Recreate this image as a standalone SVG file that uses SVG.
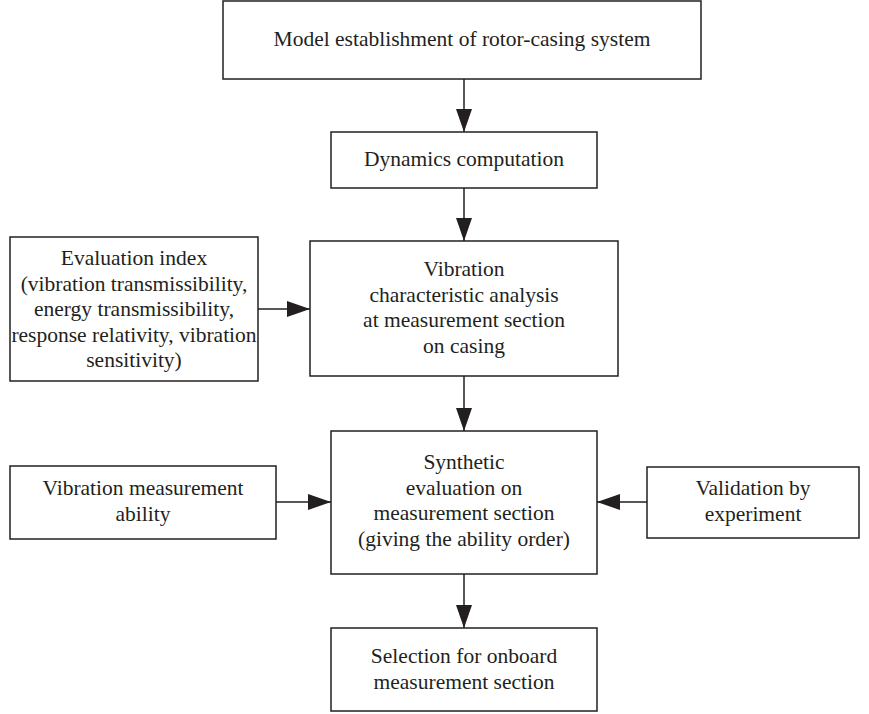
<svg xmlns="http://www.w3.org/2000/svg" width="869" height="714" viewBox="0 0 869 714">
<defs>
<style>
rect{fill:#fff;stroke:#231f20;stroke-width:1.5}
text{font-family:"Liberation Serif","Times New Roman",serif;font-size:21.5px;fill:#231f20;text-anchor:middle}
.c line{stroke:#231f20;stroke-width:1.5}
</style>
<marker id="ah" markerWidth="23" markerHeight="16" refX="23" refY="8" orient="auto" markerUnits="userSpaceOnUse">
<path d="M0,0 L23,8 L0,16 Z" fill="#231f20"/>
</marker>
</defs>
<rect width="869" height="714" style="stroke:none"/>
<g class="c" id="connectors">
<line x1="464" y1="79" x2="464" y2="132" marker-end="url(#ah)"/>
<line x1="464" y1="188" x2="464" y2="241" marker-end="url(#ah)"/>
<line x1="258" y1="309" x2="310" y2="309" marker-end="url(#ah)"/>
<line x1="464" y1="376" x2="464" y2="431" marker-end="url(#ah)"/>
<line x1="276" y1="502" x2="331" y2="502" marker-end="url(#ah)"/>
<line x1="647" y1="502" x2="597" y2="502" marker-end="url(#ah)"/>
<line x1="464" y1="574" x2="464" y2="628" marker-end="url(#ah)"/>
</g>
<g id="model">
<rect x="223" y="1" width="478" height="78"/>
<text x="462" y="46">Model establishment of rotor-casing system</text>
</g>
<g id="dynamics">
<rect x="331" y="132" width="266" height="56"/>
<text x="464" y="166">Dynamics computation</text>
</g>
<g id="evaluation-index">
<rect x="10" y="237" width="248" height="144"/>
<text x="134" y="265">Evaluation index</text>
<text x="134" y="290.5">(vibration transmissibility,</text>
<text x="134" y="316">energy transmissibility,</text>
<text x="134" y="341.5">response relativity, vibration</text>
<text x="134" y="367">sensitivity)</text>
</g>
<g id="vibration-analysis">
<rect x="310" y="241" width="308" height="135"/>
<text x="464" y="276">Vibration</text>
<text x="464" y="301.5">characteristic analysis</text>
<text x="464" y="327">at measurement section</text>
<text x="464" y="352.5">on casing</text>
</g>
<g id="measurement-ability">
<rect x="10" y="466" width="266" height="73"/>
<text x="143" y="495">Vibration measurement</text>
<text x="143" y="520.5">ability</text>
</g>
<g id="synthetic">
<rect x="331" y="431" width="266" height="143"/>
<text x="464" y="469">Synthetic</text>
<text x="464" y="494.5">evaluation on</text>
<text x="464" y="520">measurement section</text>
<text x="464" y="545.5">(giving the ability order)</text>
</g>
<g id="validation">
<rect x="647" y="467" width="212" height="71"/>
<text x="753" y="495">Validation by</text>
<text x="753" y="520.5">experiment</text>
</g>
<g id="selection">
<rect x="331" y="628" width="266" height="83"/>
<text x="464" y="663">Selection for onboard</text>
<text x="464" y="688.5">measurement section</text>
</g>
</svg>
